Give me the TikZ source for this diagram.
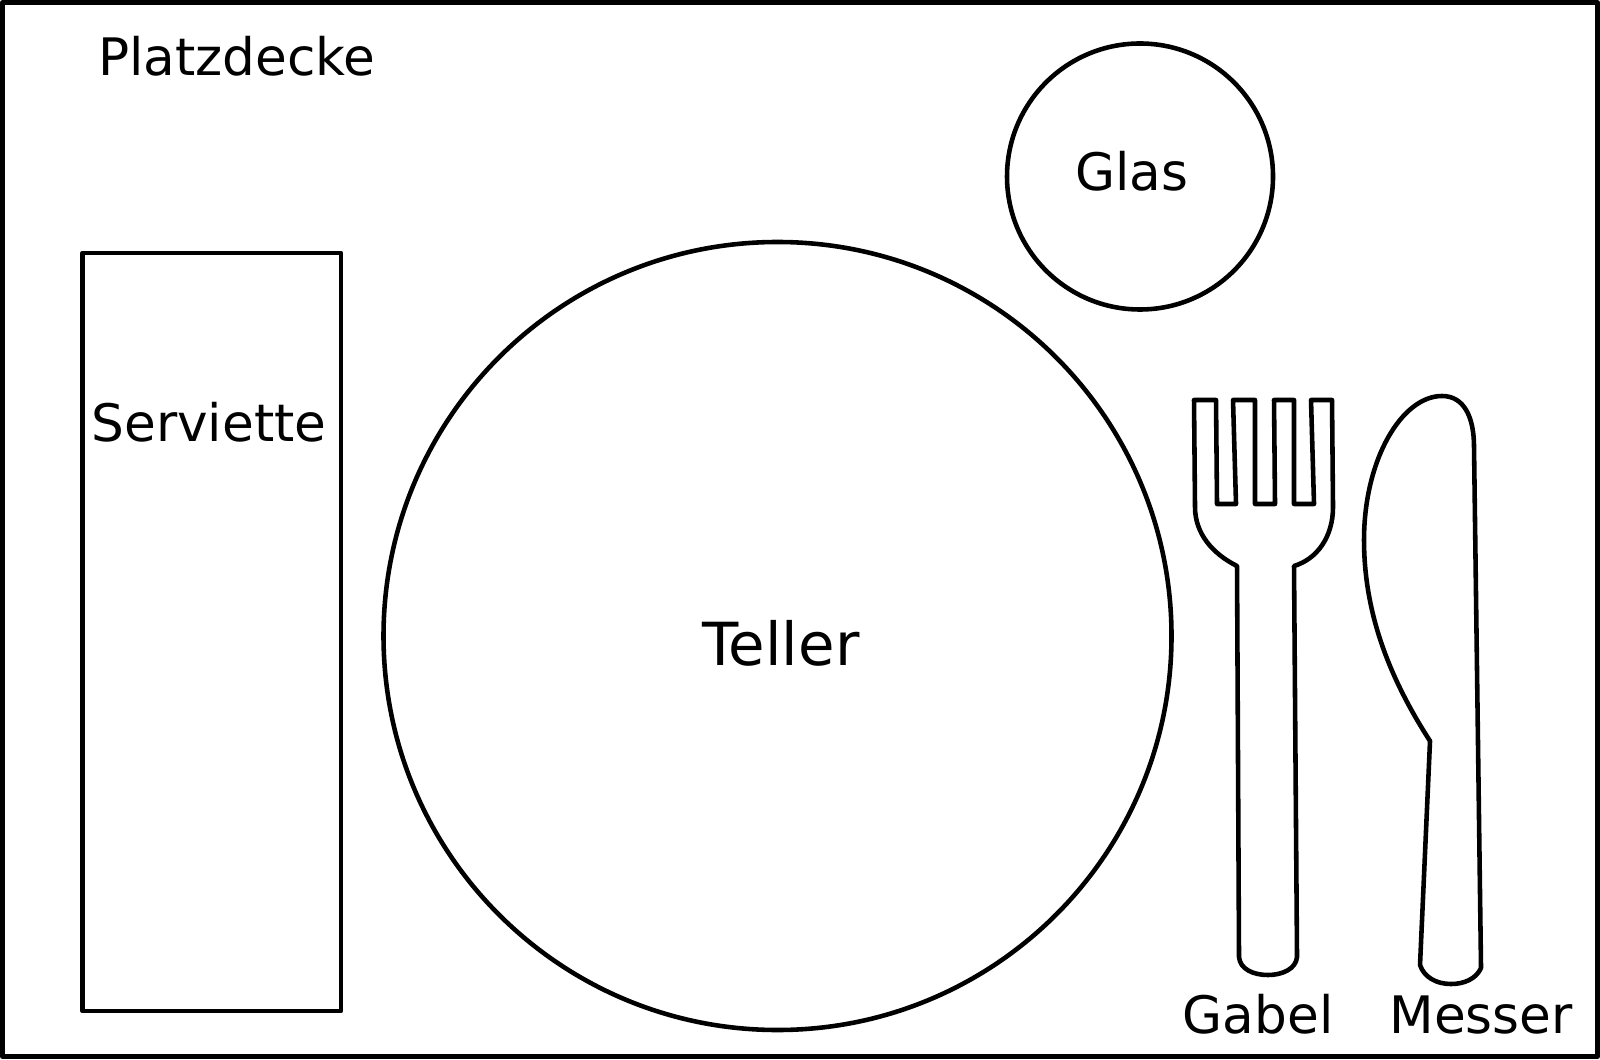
\documentclass[tikz,border=0pt]{standalone}
\usepackage{fontspec}
\setmainfont{DejaVu Sans}

\tikzset{
  outline/.style={line width=1.3pt,line join=round},
  word/.style={inner sep=0pt,anchor=base,font=\fontsize{14.7pt}{17pt}\selectfont}
}

\begin{document}
\begin{tikzpicture}

\useasboundingbox (0,0) rectangle (16,10.59);

\draw[outline,line width=1.45pt] (0.025,0.025) rectangle (15.975,10.565);

\draw[outline] (0.825,0.48) rectangle (3.41,8.06);
\draw[outline] (7.775,4.23) circle (3.94);
\draw[outline] (11.40,8.825) circle (1.33);

% fork
\draw[outline] (11.94,6.59) -- (12.16,6.59) -- (12.17,5.55) -- (12.36,5.55) -- (12.33,6.59)
  -- (12.55,6.59) -- (12.55,5.55) -- (12.75,5.55) -- (12.74,6.59) -- (12.94,6.59)
  -- (12.94,5.55) -- (13.14,5.55) -- (13.11,6.59) -- (13.32,6.59) -- (13.33,5.52)
  .. controls (13.33,5.22) and (13.17,5.00) .. (12.94,4.93)
  -- (12.97,1.02)
  .. controls (12.96,0.90) and (12.82,0.84) .. (12.68,0.84)
  .. controls (12.53,0.84) and (12.40,0.90) .. (12.39,1.02)
  -- (12.37,4.93)
  .. controls (12.13,5.05) and (11.95,5.25) .. (11.95,5.52)
  -- cycle;

% knife
\draw[outline] (14.42,6.63)
  .. controls (14.64,6.63) and (14.74,6.42) .. (14.74,6.12)
  -- (14.81,0.91)
  .. controls (14.76,0.80) and (14.64,0.75) .. (14.51,0.75)
  .. controls (14.36,0.75) and (14.24,0.82) .. (14.20,0.94)
  -- (14.30,3.18)
  .. controls (13.90,3.80) and (13.64,4.45) .. (13.64,5.19)
  .. controls (13.64,6.00) and (14.02,6.63) .. (14.42,6.63)
  -- cycle;

\node[word] (platzdecke) at (2.37,9.83) {Platzdecke};
\node[word] (glas) at (11.32,8.68) {Glas};
\node[word] (serviette) at (2.09,6.18) {Serviette};
\node[word,font=\fontsize{16.9pt}{19pt}\selectfont] (teller) at (7.81,3.94) {Teller};
\node[word] (gabel) at (12.58,0.26) {Gabel};
\node[word] (messer) at (14.81,0.26) {Messer};

\end{tikzpicture}
\end{document}
